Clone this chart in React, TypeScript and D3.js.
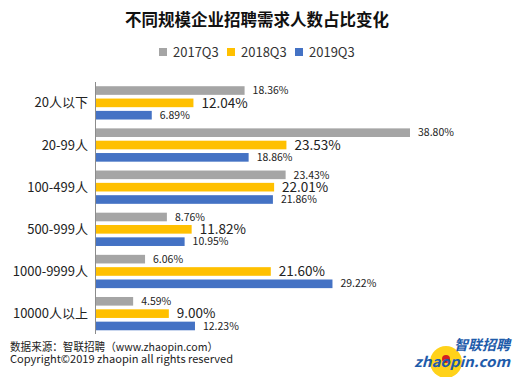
import React from "react";
import * as d3 from "d3";

const categories = ["20人以下", "20-99人", "100-499人", "500-999人", "1000-9999人", "10000人以上"];
const seriesNames = ["2017Q3", "2018Q3", "2019Q3"];
const v2017 = [18.36, 38.8, 23.43, 8.76, 6.06, 4.59];
const v2018 = [12.04, 23.53, 22.01, 11.82, 21.6, 9.0];
const v2019 = [6.89, 18.86, 21.86, 10.95, 29.22, 12.23];
const colors = ["#A5A5A5", "#FFC000", "#4472C4"];
const labelSizes = [10.5, 13.5, 10.5];

const W = 515, H = 377;
const FONT = "'Noto Sans CJK SC', 'Microsoft YaHei', sans-serif";

export default function App() {
  const series = [v2017, v2018, v2019];
  const x = d3.scaleLinear().domain([0, 38.8]).range([96, 410]);
  const y = d3.scaleBand().domain(categories).range([82, 334.5]).paddingInner(0.21).paddingOuter(0.1);
  const inner = d3.scaleBand().domain(seriesNames).range([0, y.bandwidth()]).paddingInner(0.3);

  return (
    <svg width={W} height={H} style={{ position: "absolute", left: 0, top: 0, background: "#fff" }} fontFamily={FONT}>
      <text x={257} y={26} textAnchor="middle" fontSize={16.5} fontWeight="bold" fill="#111">不同规模企业招聘需求人数占比变化</text>
      {seriesNames.map((s, i) => {
        const lx = [159, 227, 295][i];
        return (
          <g key={s}>
            <rect x={lx} y={48} width={8} height={8} fill={colors[i]} />
            <text x={lx + 14} y={57} fontSize={13} fill="#333">{s}</text>
          </g>
        );
      })}
      {categories.map((c, ci) => (
        <g key={c}>
          <text x={88} y={(y(c) as number) + y.bandwidth() / 2 + 4.5} textAnchor="end" fontSize={13} fill="#222">{c}</text>
          {series.map((vals, si) => {
            const by = (y(c) as number) + (inner(seriesNames[si]) as number);
            const bh = inner.bandwidth();
            return (
              <g key={si}>
                <rect x={x(0)} y={by} width={x(vals[ci]) - x(0)} height={bh} fill={colors[si]} />
                <text x={x(vals[ci]) + 8} y={by + bh / 2} dy="0.35em" fontSize={labelSizes[si]} fill="#222">
                  {vals[ci].toFixed(2) + "%"}
                </text>
              </g>
            );
          })}
        </g>
      ))}
      <line x1={95.5} x2={95.5} y1={82} y2={334} stroke="#8c8c8c" strokeWidth={1} />
      <text x={10} y={351} fontSize={11} fill="#222" textLength={208} lengthAdjust="spacingAndGlyphs">数据来源：智联招聘（www.zhaopin.com）</text>
      <text x={10} y={363} fontSize={11} fill="#222" textLength={223} lengthAdjust="spacingAndGlyphs">Copyright©2019 zhaopin all rights reserved</text>
      <g>
        <circle cx={446} cy={362} r={16} fill="#FFD21A" />
        <circle cx={446} cy={359} r={4} fill="#D32020" />
        <text x={510} y={350} textAnchor="end" fontSize={14} fontWeight="bold" fontStyle="italic" fill="#1E5BAA">智联招聘</text>
        <text x={414} y={367} fontSize={14} fontWeight="bold" fontStyle="italic" fill="#1E5BAA" textLength={96} lengthAdjust="spacingAndGlyphs">zhaopin.com</text>
      </g>
    </svg>
  );
}
